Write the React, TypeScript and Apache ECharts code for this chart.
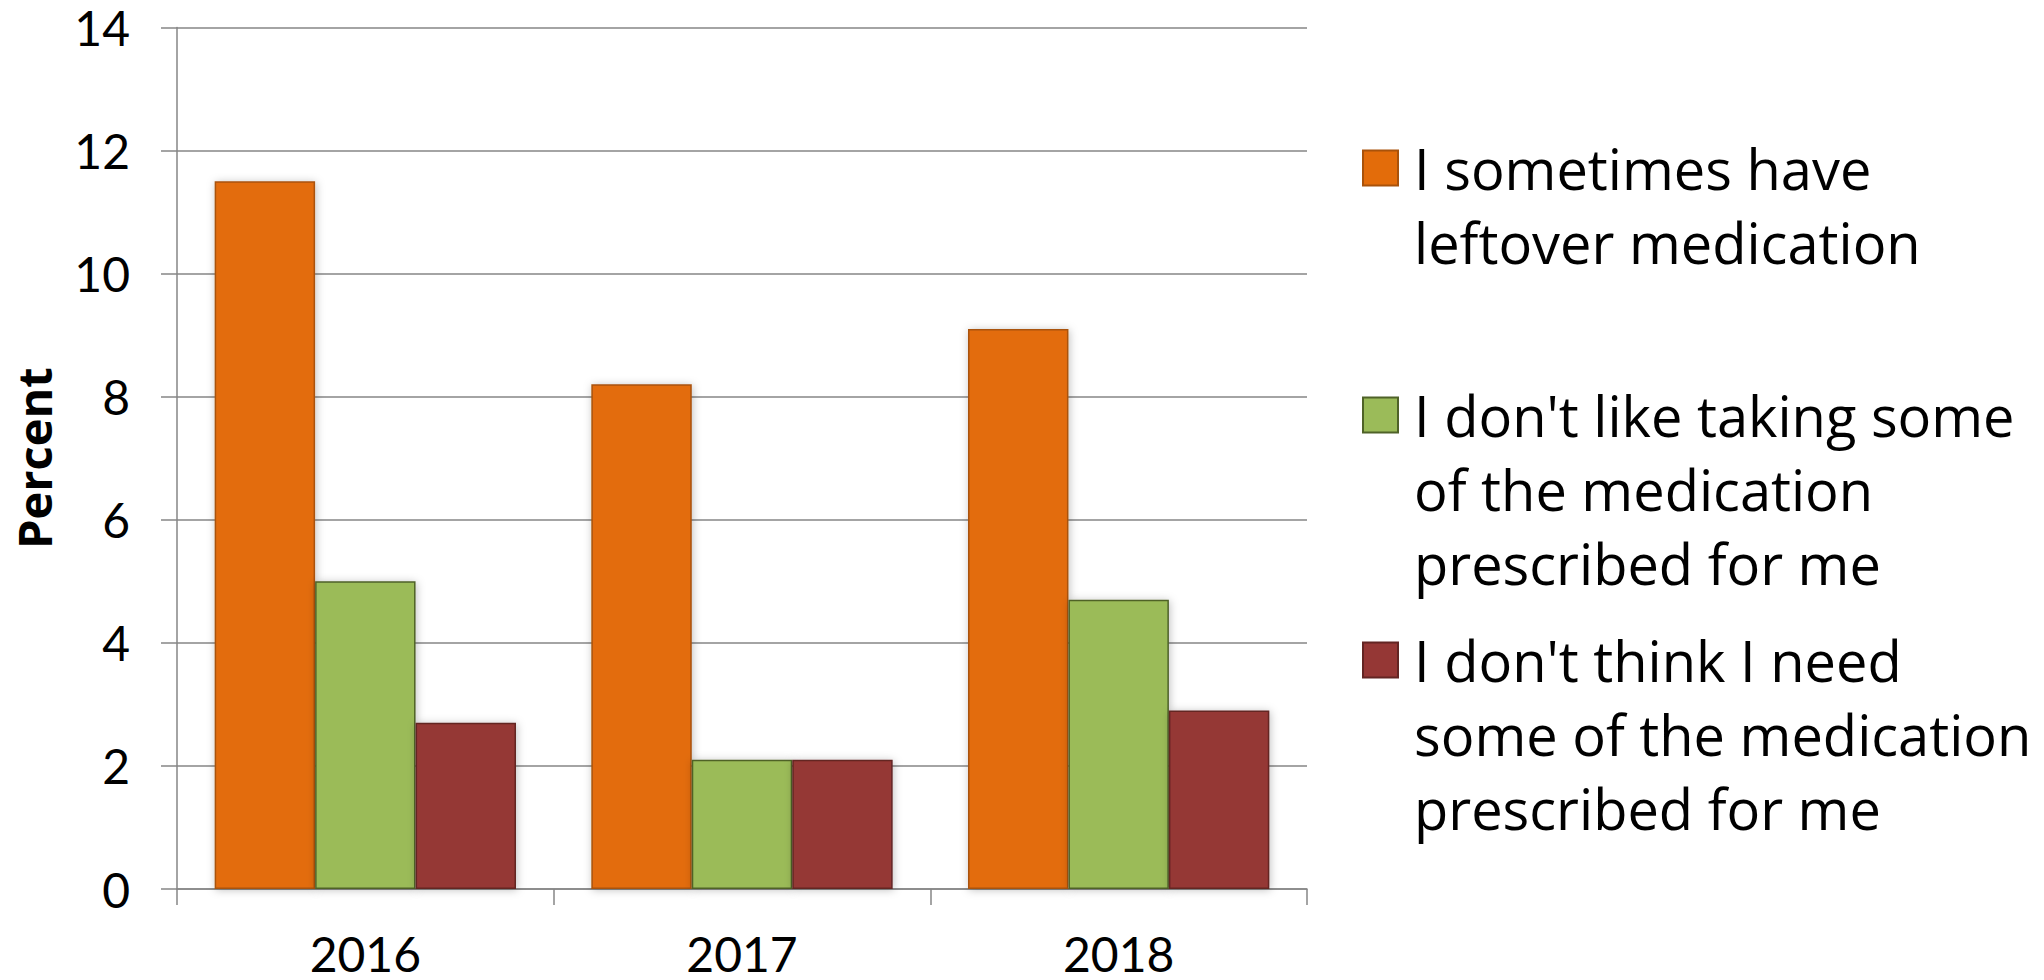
import React, { useEffect, useRef } from "react";
import * as echarts from "echarts";

const categories = ["2016", "2017", "2018"];
const leftoverValues = [11.5, 8.2, 9.1];
const dislikeValues = [5.0, 2.1, 4.7];
const notNeedValues = [2.7, 2.1, 2.9];

const seriesNames = [
  "I sometimes have leftover medication",
  "I don't like taking some of the medication prescribed for me",
  "I don't think I need some of the medication prescribed for me",
];
const legendLines = [
  ["I sometimes have", "leftover medication"],
  ["I don't like taking some", "of the medication", "prescribed for me"],
  ["I don't think I need", "some of the medication", "prescribed for me"],
];
const yMin = 0;
const yMax = 14;
const yInterval = 2;

const LEGEND_FAMILY = "Open Sans";
const AXIS_FAMILY = "Lato";
const LINE_H = 74;
const AXIS_FONT = 48;
const LEGEND_FONT = 56;

const fills = ["#E36C0A", "#9BBB59", "#953735"];
const borders = ["#A9520A", "#4F6228", "#632523"];
const legendIconCenters = [168, 415, 660];

export default function App() {
  const ref = useRef<HTMLDivElement>(null);
  useEffect(() => {
    if (!ref.current) return;
    const chart = echarts.init(ref.current, null, { renderer: "svg" });
    const values = [leftoverValues, dislikeValues, notNeedValues];
    const legends = legendLines.map((lines, i) => {
      const n = lines.length;
      const boxH = (2 * n - 1) * LINE_H;
      return {
        show: true,
        orient: "vertical",
        left: 1362,
        top: legendIconCenters[i] - boxH / 2,
        padding: 0,
        itemWidth: 35,
        itemHeight: 35,
        icon: "rect",
        selectedMode: false,
        data: [seriesNames[i]],
        formatter: () => "\n".repeat(n - 1) + lines.join("\n"),
        textStyle: {
          fontFamily: LEGEND_FAMILY,
          fontSize: LEGEND_FONT,
          lineHeight: LINE_H,
          color: "#000",
          padding: [0, 0, 0, 11],
        },
      };
    });
    chart.setOption({
      animation: false,
      backgroundColor: "#fff",
      textStyle: { fontFamily: AXIS_FAMILY },
      grid: { left: 177, right: 737, top: 27.4, bottom: 91, containLabel: false },
      legend: legends,
      xAxis: {
        type: "category",
        data: categories,
        axisLine: { show: true, lineStyle: { color: "#868686", width: 1.5 } },
        axisTick: { show: true, length: 16, lineStyle: { color: "#868686", width: 1.5 } },
        axisLabel: { color: "#000", fontSize: AXIS_FONT, fontFamily: AXIS_FAMILY, margin: 40 },
        splitLine: { show: false },
      },
      yAxis: {
        type: "value",
        min: yMin,
        max: yMax,
        interval: yInterval,
        name: "Percent",
        nameLocation: "middle",
        nameGap: 120,
        nameTextStyle: { color: "#000", fontSize: 47, fontWeight: "bold", fontFamily: LEGEND_FAMILY },
        axisLine: { show: true, lineStyle: { color: "#868686", width: 1.5 } },
        axisTick: { show: true, length: 16, lineStyle: { color: "#868686", width: 1.5 } },
        axisLabel: { color: "#000", fontSize: AXIS_FONT, fontFamily: AXIS_FAMILY, margin: 47 },
        splitLine: { show: true, lineStyle: { color: "#868686", width: 1.5 } },
      },
      series: values.map((v, i) => ({
        type: "bar",
        name: seriesNames[i],
        data: v,
        barGap: "0%",
        barCategoryGap: "20%",
        itemStyle: {
          color: fills[i],
          borderColor: borders[i],
          borderWidth: 1.5,
          shadowBlur: 8,
          shadowColor: "rgba(0,0,0,0.25)",
          shadowOffsetX: 1,
          shadowOffsetY: 1,
        },
      })),
    });
    return () => chart.dispose();
  }, []);
  return (
    <div
      ref={ref}
      style={{ position: "fixed", left: 0, top: 0, width: 2044, height: 980, background: "#fff" }}
    />
  );
}
